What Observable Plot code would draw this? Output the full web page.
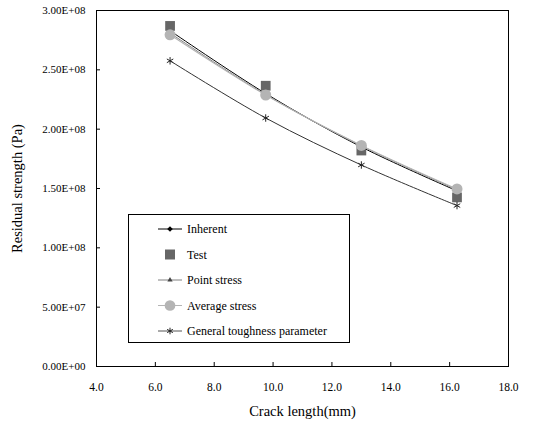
<!DOCTYPE html>
<html>
<head>
<meta charset="utf-8">
<script src="https://cdn.jsdelivr.net/npm/d3@7"></script>
<script src="https://cdn.jsdelivr.net/npm/@observablehq/plot@0.6"></script>
<style>
  body { margin: 0; background: #fff; }
  #chart { position: relative; width: 537px; height: 423px; }
</style>
</head>
<body>
<div id="chart"></div>
<script>
const crackLength = [6.5, 9.75, 13.0, 16.25];
const inherent = [2.83e8, 2.30e8, 1.85e8, 1.48e8];
const test = [2.87e8, 2.366e8, 1.82e8, 1.425e8];
const pointStress = [2.81e8, 2.29e8, 1.86e8, 1.49e8];
const averageStress = [2.795e8, 2.288e8, 1.863e8, 1.496e8];
const generalToughness = [2.576e8, 2.094e8, 1.698e8, 1.356e8];
const xTicks = [4, 6, 8, 10, 12, 14, 16, 18];
const yTicks = [0, 5e7, 1e8, 1.5e8, 2e8, 2.5e8, 3e8];
const seriesNames = ["Inherent", "Test", "Point stress", "Average stress", "General toughness parameter"];

const rows = (vals) => crackLength.map((x, i) => ({x, y: vals[i]}));

function sci(d) {
  if (d === 0) return "0.00E+00";
  const e = Math.floor(Math.log10(d) + 1e-9);
  const m = d / Math.pow(10, e);
  return m.toFixed(2) + "E+" + String(e).padStart(2, "0");
}

const font = "'Liberation Serif', 'DejaVu Serif', serif";
const curve = "catmull-rom";

const plot = Plot.plot({
  width: 537,
  height: 423,
  marginLeft: 96,
  marginRight: 29,
  marginTop: 10,
  marginBottom: 57,
  style: {fontFamily: font, fontSize: "11px", color: "#000", background: "#fff"},
  x: {domain: [4, 18]},
  y: {domain: [0, 3e8]},
  marks: [
    Plot.frame({stroke: "#000", strokeWidth: 1}),
    // inward tick marks only
    Plot.axisX({ticks: xTicks, tickSize: -4, tickFormat: () => "", label: null}),
    // tick labels and title
    Plot.axisX({ticks: xTicks, tickFormat: d => d.toFixed(1), tickSize: 0, tickPadding: 16,
      label: "Crack length(mm)", labelAnchor: "center", labelArrow: "none", labelOffset: 49, fontSize: 11.5}),
    Plot.axisY({ticks: yTicks, tickFormat: sci, tickSize: -4, tickPadding: 15,
      label: "Residual strength (Pa)", labelAnchor: "center", labelArrow: "none", labelOffset: 85, fontSize: 11}),
    Plot.line(rows(inherent), {x: "x", y: "y", stroke: "#000", strokeWidth: 1, curve}),
    Plot.dot(rows(inherent), {x: "x", y: "y", symbol: "diamond2", fill: "#000", r: 3}),
    Plot.dot(rows(test), {x: "x", y: "y", symbol: "square", fill: "#666", r: 5.5}),
    Plot.line(rows(pointStress), {x: "x", y: "y", stroke: "#808080", strokeWidth: 1, curve}),
    Plot.dot(rows(pointStress), {x: "x", y: "y", symbol: "triangle2", fill: "#444", r: 3}),
    Plot.line(rows(averageStress), {x: "x", y: "y", stroke: "#b4b4b4", strokeWidth: 1.2, curve}),
    Plot.dot(rows(averageStress), {x: "x", y: "y", symbol: "circle", fill: "#b4b4b4", r: 5.5}),
    Plot.line(rows(generalToughness), {x: "x", y: "y", stroke: "#333", strokeWidth: 1, curve}),
    Plot.dot(rows(generalToughness), {x: "x", y: "y", symbol: "asterisk", stroke: "#222", strokeWidth: 1, r: 3.5})
  ]
});
document.getElementById("chart").appendChild(plot);

const svg = d3.select(plot);

// Legend inside plot area
const lg = svg.append("g").attr("font-size", "12px").attr("text-anchor", "start");
const lx = 128.5, ly = 214.5, lw = 221, lh = 128;
lg.append("rect").attr("x", lx).attr("y", ly).attr("width", lw).attr("height", lh)
  .attr("fill", "#fff").attr("stroke", "#000").attr("stroke-width", 1);
const styles = [
  {line: "#000", sym: d3.symbolDiamond2, fill: "#000", size: 20},
  {line: null, sym: d3.symbolSquare, fill: "#666", size: 100},
  {line: "#808080", sym: d3.symbolTriangle2, fill: "#444", size: 20},
  {line: "#b4b4b4", sym: d3.symbolCircle, fill: "#b4b4b4", size: 90},
  {line: "#555", sym: d3.symbolAsterisk, stroke: "#222", size: 30}
];
seriesNames.forEach((name, i) => {
  const cy = 229 + i * 25.5;
  const st = styles[i];
  if (st.line) lg.append("line").attr("x1", 158).attr("x2", 182).attr("y1", cy).attr("y2", cy)
    .attr("stroke", st.line).attr("stroke-width", 1);
  lg.append("path").attr("transform", `translate(170,${cy})`)
    .attr("d", d3.symbol(st.sym, st.size)())
    .attr("fill", st.fill || "none").attr("stroke", st.stroke || "none");
  lg.append("text").attr("x", 187).attr("y", cy).attr("dy", "0.35em").attr("text-anchor", "start").text(name);
});

// Force serif font on all text
svg.attr("font-family", font).style("font-family", font);
svg.selectAll("text").attr("font-family", font).style("font-family", font);
svg.selectAll("g").style("font-family", font);
// Axis title font size
svg.selectAll("[aria-label='x-axis label'] text, [aria-label='y-axis label'] text")
  .style("font-size", "14.5px");
</script>
</body>
</html>
